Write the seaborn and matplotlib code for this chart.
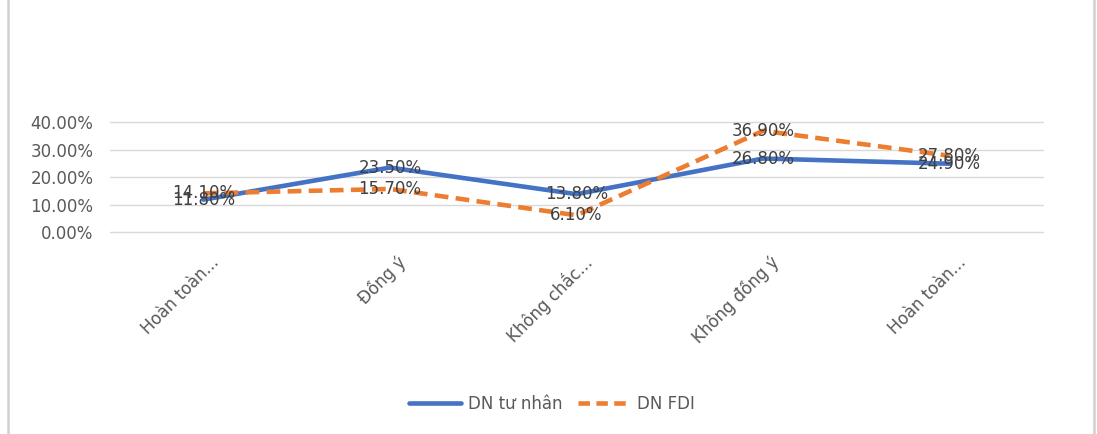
import matplotlib
matplotlib.use("Agg")
import matplotlib.pyplot as plt
from matplotlib.lines import Line2D
from matplotlib.ticker import PercentFormatter
import seaborn as sns
import pandas as pd

# Survey answers (truncated as on the category axis)
categories = ["Hoàn toàn...", "Đồng ý", "Không chắc...", "Không đồng ý", "Hoàn toàn..."]
series_names = ["DN tư nhân", "DN FDI"]
dn_tu_nhan = [11.8, 23.5, 13.8, 26.8, 24.9]
dn_fdi = [14.1, 15.7, 6.1, 36.9, 27.8]
y_ticks = [0, 10, 20, 30, 40]

colors = {"DN tư nhân": "#4472C4", "DN FDI": "#ED7D31"}

sns.set_theme(style="white")
plt.rcParams["font.family"] = ["DejaVu Sans"]

rows = []
for i, cat in enumerate(categories):
    rows.append({"pos": i, "cat": cat, "series": series_names[0], "value": dn_tu_nhan[i]})
    rows.append({"pos": i, "cat": cat, "series": series_names[1], "value": dn_fdi[i]})
df = pd.DataFrame(rows)

fig = plt.figure(figsize=(10.97, 4.34), dpi=100)
ax = fig.add_axes([0.1003, 0.4654, 0.8505, 0.2528])

sns.lineplot(
    data=df, x="pos", y="value", hue="series", style="series",
    hue_order=series_names, style_order=series_names,
    palette=colors, dashes={"DN tư nhân": "", "DN FDI": (3, 1.6)},
    linewidth=3.3, ax=ax, legend=False, sort=False,
)
for line in ax.lines:
    line.set_clip_on(False)
    line.set_solid_capstyle("round")

# Value labels centred on each point
for vals in (dn_tu_nhan, dn_fdi):
    for i, v in enumerate(vals):
        ax.text(i, v, f"{v:.2f}%", ha="center", va="center",
                fontsize=12, color="#404040", zorder=5)

ax.set_xlim(-0.5, len(categories) - 0.5)
ax.set_ylim(0, 40)
ax.set_yticks(y_ticks)
ax.yaxis.set_major_formatter(PercentFormatter(decimals=2))
ax.grid(axis="y", color="#d9d9d9", linewidth=1)
for gl in ax.get_ygridlines():
    gl.set_clip_on(False)
ax.set_axisbelow(True)
for s in ax.spines.values():
    s.set_visible(False)

# Rotated category labels end a little to the right of each category centre
label_nudge = 0.07
ax.set_xticks([i + label_nudge for i in range(len(categories))])
ax.set_xticklabels(categories, rotation=45, ha="right", va="center",
                   rotation_mode="anchor", fontsize=12, color="#595959")
ax.tick_params(axis="x", length=0, pad=20)
ax.tick_params(axis="y", length=0, pad=12, labelsize=12, labelcolor="#595959")
ax.set_xlabel("")
ax.set_ylabel("")

handles = [
    Line2D([], [], color=colors["DN tư nhân"], linewidth=3.3),
    Line2D([], [], color=colors["DN FDI"], linewidth=3.3, dashes=(2.5, 1.4)),
]
fig.legend(handles, series_names, loc="center", bbox_to_anchor=(0.503, 0.07),
           ncol=2, frameon=False, fontsize=12, handlelength=3.1,
           columnspacing=0.9, handletextpad=0.45, labelcolor="#595959")

# Light frame edges of the chart box
fig.add_artist(Line2D([0.0075, 0.0075], [0, 1], color="#d0d0d0", linewidth=1.8,
                      transform=fig.transFigure))
fig.add_artist(Line2D([0.9975, 0.9975], [0, 1], color="#d0d0d0", linewidth=1.8,
                      transform=fig.transFigure))

fig.savefig("out.png", dpi=100, facecolor="white")
